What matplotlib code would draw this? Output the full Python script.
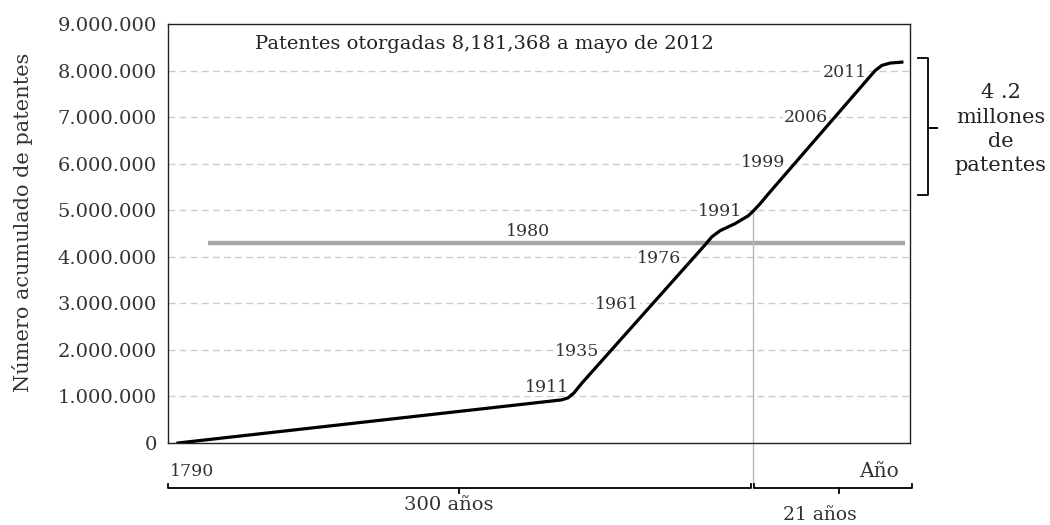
import matplotlib
matplotlib.use("Agg")
import matplotlib.pyplot as plt
from matplotlib.ticker import FuncFormatter

plt.rcParams['font.family'] = ['DejaVu Serif']

# Horizontal position along the (schematic) time axis, 0-100
pos = [1.35, 53.0, 53.9, 54.7, 55.8, 72.4, 73.3, 74.4, 76.4, 78.2, 78.8,
       79.8, 80.9, 95.3, 96.2, 97.3, 98.9]
# Cumulative patents
patents = [0, 925000, 968000, 1075000, 1290000, 4260000, 4430000, 4560000,
           4710000, 4880000, 4970000, 5140000, 5350000, 8000000, 8110000,
           8160000, 8181368]

year_labels = ['1911', '1935', '1961', '1976', '1991', '1999', '2006', '2011']
year_pos = [51.1, 55.1, 60.5, 66.2, 74.4, 80.2, 86.0, 91.2]
year_val = [1200000, 1960000, 2970000, 3960000, 4970000, 6020000, 6990000, 7960000]

ref_level = 4290000      # gray line (1980)
split_pos = 78.8         # 1991
split_val = 4970000

yticks = [0, 1000000, 2000000, 3000000, 4000000, 5000000, 6000000, 7000000, 8000000, 9000000]

fig = plt.figure(figsize=(10.5, 5.25), dpi=100)
ax = fig.add_axes([0.16, 0.1562, 0.7067, 0.7981])

ax.set_xlim(0, 100)
ax.set_ylim(0, 9000000)
ax.set_yticks(yticks)
ax.yaxis.set_major_formatter(FuncFormatter(lambda v, p: '0' if v == 0 else '{:,.0f}'.format(v).replace(',', '.')))
ax.set_xticks([])
ax.tick_params(axis='y', length=0, pad=8, labelsize=14, labelcolor='#333333')
for s in ax.spines.values():
    s.set_color('#222222')
    s.set_linewidth(1.0)

# Gridlines (not at 0 or 9M)
for v in yticks[1:-1]:
    ax.axhline(v, color='#cccccc', linestyle=(0, (5, 3)), linewidth=1, zorder=1)

ax.set_ylabel('Número acumulado de patentes', fontsize=15, color='#333333')
ax.yaxis.set_label_coords(-0.182, 0.527)

# Gray reference line
ax.plot([5.4, 99.3], [ref_level, ref_level], color='#a6a6a6', linewidth=3.2, zorder=2,
        solid_capstyle='butt')
ax.text(48.5, 4540000, '1980', ha='center', va='center', fontsize=12.5, color='#333333', zorder=3)

# Vertical split line
ax.plot([split_pos, split_pos], [split_val, -970000], color='#b8b8b8', linewidth=1,
        clip_on=False, zorder=2)

# Main curve
ax.plot(pos, patents, color='black', linewidth=2.3, zorder=5, solid_joinstyle='round')

for lab, xp, yv in zip(year_labels, year_pos, year_val):
    ax.text(xp, yv, lab, ha='center', va='center', fontsize=12.5, color='#333333', zorder=4,
            bbox=dict(facecolor='white', edgecolor='none', pad=0.5))

ax.text(42.7, 8560000, 'Patentes otorgadas 8,181,368 a mayo de 2012', ha='center', va='center',
        fontsize=14, color='#222222')

# Right bracket with annotation
bx = [101.1, 102.4, 102.4, 103.6, 102.4, 102.4, 101.1]
by = [8280000, 8280000, 6770000, 6770000, 6770000, 5330000, 5330000]
ax.plot(bx, by, color='black', linewidth=1.3, clip_on=False)
ax.text(112.2, 6740000, '4 .2\nmillones\nde\npatentes', ha='center', va='center',
        fontsize=15, color='#222222', linespacing=1.36)

# Bottom braces
ylo = -970000
ax.plot([0, 0, 78.6, 78.6], [-880000, ylo, ylo, -880000], color='black', linewidth=1.3, clip_on=False)
ax.plot([39.2, 39.2], [ylo, -1080000], color='black', linewidth=1.3, clip_on=False)
ax.plot([79.0, 79.0, 100.3, 100.3], [-880000, ylo, ylo, -880000], color='black', linewidth=1.3, clip_on=False)
ax.plot([90.4, 90.4], [ylo, -1080000], color='black', linewidth=1.3, clip_on=False)

ax.text(0.3, -620000, '1790', ha='left', va='center', fontsize=12.5, color='#333333')
ax.text(98.5, -620000, 'Año', ha='right', va='center', fontsize=14.5, color='#333333')
ax.text(37.9, -1330000, '300 años', ha='center', va='center', fontsize=14, color='#333333')
ax.text(87.9, -1550000, '21 años', ha='center', va='center', fontsize=13.5, color='#333333')

fig.savefig('out.png', dpi=100)
